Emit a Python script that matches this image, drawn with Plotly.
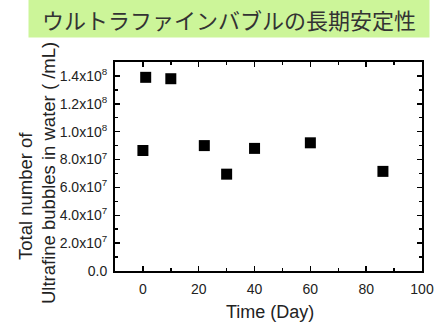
import plotly.graph_objects as go

days = [0, 1, 10, 22, 30, 40, 60, 86]
counts = [8.65e7, 1.39e8, 1.38e8, 9.0e7, 6.95e7, 8.8e7, 9.2e7, 7.15e7]

x_ticks = [0, 20, 40, 60, 80, 100]
y_ticks = [0, 2e7, 4e7, 6e7, 8e7, 1e8, 1.2e8, 1.4e8]
y_labels = ["0.0", "2.0x10<sup>7</sup>", "4.0x10<sup>7</sup>", "6.0x10<sup>7</sup>",
            "8.0x10<sup>7</sup>", "1.0x10<sup>8</sup>", "1.2x10<sup>8</sup>", "1.4x10<sup>8</sup>"]

title_text = "ウルトラファインバブルの長期安定性"
ytitle1 = "Total number of"
ytitle2 = "Ultrafine bubbles in water ( /mL)"
xtitle = "Time (Day)"

W, H = 439, 334
L, R, T, B = 115, 17, 62, 63
pw, ph = W - L - R, H - T - B

def px(x):
    return (x - L) / pw

def py(y):
    return (H - B - y) / ph

FONT = "Liberation Sans, Arial"

fig = go.Figure()
fig.add_trace(go.Scatter(
    x=days, y=counts, mode="markers",
    marker=dict(symbol="square", size=11, color="black", line=dict(width=0)),
    showlegend=False, cliponaxis=False,
))

axis_common = dict(
    showline=True, linewidth=2, linecolor="black", mirror="ticks",
    ticks="inside", ticklen=5, tickwidth=1.5, tickcolor="black",
    showgrid=False, zeroline=False, automargin=False,
    tickfont=dict(family=FONT, size=14, color="#222"),
)

fig.update_xaxes(
    range=[-10, 100], tickvals=x_ticks, ticklabelstandoff=4,
    minor=dict(ticks="inside", ticklen=3, tickwidth=1.5, tickcolor="black", dtick=10, tick0=0),
    **axis_common,
)
fig.update_yaxes(
    range=[0, 1.5e8], tickvals=y_ticks, ticktext=y_labels, ticklabelstandoff=3,
    minor=dict(ticks="inside", ticklen=3, tickwidth=1.5, tickcolor="black", dtick=1e7, tick0=0),
    **axis_common,
)

fig.add_annotation(
    text=xtitle, xref="paper", yref="paper", x=px(270), y=py(311.5),
    xanchor="center", yanchor="middle", showarrow=False,
    font=dict(family=FONT, size=18, color="#222"),
)
fig.add_annotation(
    text=ytitle1, xref="paper", yref="paper", x=px(25), y=py(196),
    xanchor="center", yanchor="middle", textangle=-90, showarrow=False,
    font=dict(family=FONT, size=18.5, color="#222"),
)
fig.add_annotation(
    text=ytitle2, xref="paper", yref="paper", x=px(48), y=py(173),
    xanchor="center", yanchor="middle", textangle=-90, showarrow=False,
    font=dict(family=FONT, size=18.5, color="#222"),
)
fig.add_annotation(
    text=title_text, xref="paper", yref="paper", x=px(229), y=py(18.5),
    xanchor="center", yanchor="middle", showarrow=False,
    width=400, height=37, bgcolor="#ccf599", borderpad=0,
    font=dict(family="Noto Sans CJK JP", size=22, color="#333"),
)

fig.update_layout(
    width=W, height=H,
    margin=dict(l=L, r=R, t=T, b=B),
    paper_bgcolor="white", plot_bgcolor="white",
    hovermode=False,
)

fig.write_html(
    "out.html",
    config={"displayModeBar": False, "staticPlot": True},
    post_script="document.body.style.margin='0';document.body.style.overflow='hidden';",
)
